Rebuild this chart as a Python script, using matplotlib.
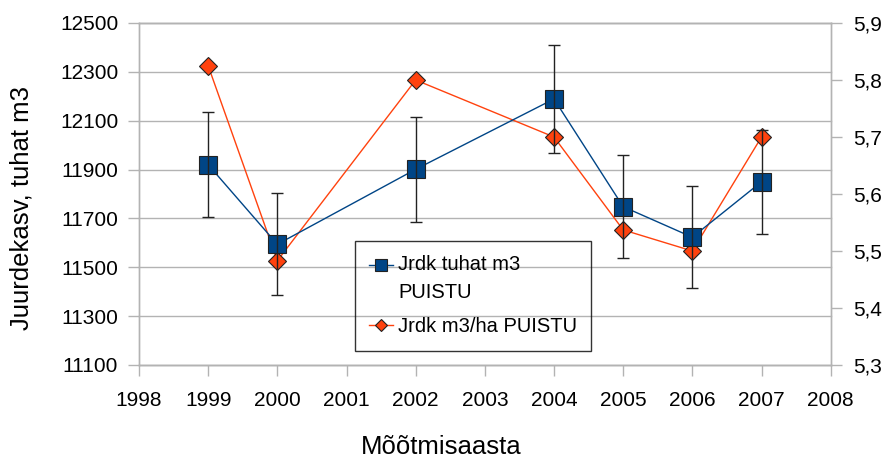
import matplotlib

matplotlib.use("Agg")
import matplotlib.pyplot as plt
import matplotlib.transforms as mtransforms
from matplotlib.legend_handler import HandlerLine2D

plt.rcParams["font.family"] = ["Liberation Sans", "DejaVu Sans"]

years = [1999, 2000, 2002, 2004, 2005, 2006, 2007]
volume = [11920, 11594, 11901, 12189, 11748, 11623, 11850]      # tuhat m3
volume_err = [214, 209, 214, 220, 211, 209, 213]
per_ha = [5.825, 5.483, 5.800, 5.700, 5.537, 5.500, 5.700]      # m3/ha

left_ticks = [11100, 11300, 11500, 11700, 11900, 12100, 12300, 12500]
right_ticks = [5.3, 5.4, 5.5, 5.6, 5.7, 5.8, 5.9]
x_ticks = list(range(1998, 2009))

BLUE = "#004586"
ORANGE = "#ff420e"
GRAY = "#b3b3b3"


class FirstLineHandler(HandlerLine2D):
    """Lift the legend handle so it sits next to the first line of a two-line label."""

    def __init__(self, lift, **kw):
        super().__init__(**kw)
        self.lift = lift

    def create_artists(self, legend, orig_handle, xdescent, ydescent, width, height, fontsize, trans):
        trans = mtransforms.Affine2D().translate(0, self.lift) + trans
        return super().create_artists(legend, orig_handle, xdescent, ydescent, width, height, fontsize, trans)


fig = plt.figure(figsize=(8.82, 4.59), dpi=100)
ax = fig.add_axes([0.1576, 0.2048, 0.7842, 0.7451])
ax2 = ax.twinx()
# left axis on top so the square series and its error bars cover the diamonds
ax.set_zorder(ax2.get_zorder() + 1)
ax.patch.set_visible(False)

ax.set_xlim(1998, 2008)
ax.set_ylim(11100, 12500)
ax2.set_ylim(5.3, 5.9)

# horizontal grid follows the left axis but is drawn under everything
grid_tr = mtransforms.blended_transform_factory(ax2.transAxes, ax.transData)
for v in left_ticks:
    ax2.plot([0, 1], [v, v], color=GRAY, lw=1, transform=grid_tr, zorder=0.5, clip_on=False)

(l2,) = ax2.plot(years, per_ha, color=ORANGE, lw=1, marker="D", ms=9.5,
                 markerfacecolor=ORANGE, markeredgecolor="#222222", markeredgewidth=0.8,
                 label="Jrdk m3/ha PUISTU", zorder=3)

ax.errorbar(years, volume, yerr=volume_err, fmt="none", ecolor="#222222",
            elinewidth=1, capsize=4.3, capthick=1, zorder=4)
(l1,) = ax.plot(years, volume, color=BLUE, lw=1, marker="s", ms=13.5,
                markerfacecolor=BLUE, markeredgecolor="#222222", markeredgewidth=0.8,
                label="Jrdk tuhat m3\nPUISTU", zorder=3)

ax.set_xticks(x_ticks)
ax.set_yticks(left_ticks)
ax2.set_yticks(right_ticks)
ax2.set_yticklabels([f"{t:.1f}".replace(".", ",") for t in right_ticks])

for a in (ax, ax2):
    for s in a.spines.values():
        s.set_color(GRAY)
        s.set_linewidth(1)
    a.tick_params(colors="black", labelsize=15, length=8, width=1, color=GRAY)
ax.tick_params(axis="y", pad=7)
ax.tick_params(axis="x", pad=11)
ax2.tick_params(axis="y", pad=8)

ax.set_ylabel("Juurdekasv, tuhat m3", fontsize=18.5)
ax.yaxis.set_label_coords(-0.153, 0.46)
ax.set_xlabel("Mõõtmisaasta", fontsize=18.5)
ax.xaxis.set_label_coords(0.4366, -0.205)

leg = ax.legend(handles=[l1, l2], loc="upper left", bbox_to_anchor=(0.312, 0.3626),
                borderaxespad=0, fancybox=False, edgecolor="black", facecolor="none",
                framealpha=None, fontsize=14.5, markerscale=0.68, handlelength=1.2,
                handletextpad=0.25, labelspacing=0.75, borderpad=0.7,
                handler_map={l1: FirstLineHandler(lift=10.5)})
leg.get_frame().set_linewidth(1)
leg.get_texts()[0].set_linespacing(1.62)

fig.savefig("out.png", dpi=100)
